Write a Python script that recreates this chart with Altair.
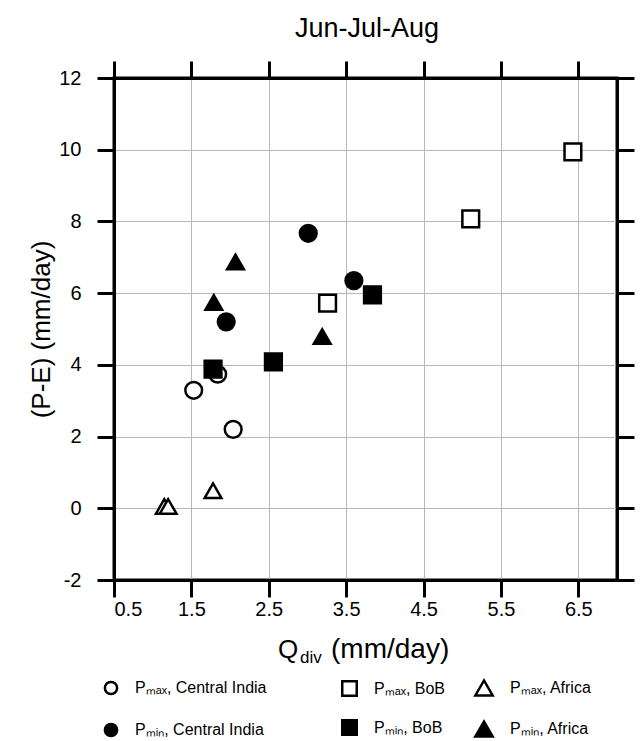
import altair as alt
import pandas as pd

# ---- data ----
ci_names = ["Pₘₐₓ, Central India", "Pₘᵢₙ, Central India"]
bob_names = ["Pₘₐₓ, BoB", "Pₘᵢₙ, BoB"]
af_names = ["Pₘₐₓ, Africa", "Pₘᵢₙ, Africa"]

pmax_ci_x = [1.53, 1.84, 2.04]
pmax_ci_y = [3.29, 3.74, 2.20]
pmin_ci_x = [1.95, 3.01, 3.60]
pmin_ci_y = [5.20, 7.67, 6.35]
pmax_bob_x = [3.26, 5.11, 6.43]
pmax_bob_y = [5.72, 8.07, 9.94]
pmin_bob_x = [1.78, 2.56, 3.84]
pmin_bob_y = [3.88, 4.08, 5.95]
pmax_af_x = [1.15, 1.20, 1.78]
pmax_af_y = [0.05, 0.05, 0.49]
pmin_af_x = [1.79, 2.07, 3.19]
pmin_af_y = [5.74, 6.87, 4.79]

x_ticks = [0.5, 1.5, 2.5, 3.5, 4.5, 5.5, 6.5]
y_ticks = [-2, 0, 2, 4, 6, 8, 10, 12]

title_text = ["Jun-Jul-Aug"]
xtitle_main = ["Q"]
xtitle_sub = ["div"]
xtitle_unit = ["(mm/day)"]
ytitle = "(P-E) (mm/day)"

FONT = "Liberation Sans"


def frame_of(names, xs_list, ys_list):
    rows = []
    for name, xs, ys in zip(names, xs_list, ys_list):
        for xv, yv in zip(xs, ys):
            rows.append({"series": name, "qdiv": xv, "pe": yv})
    return pd.DataFrame(rows)


df_ci = frame_of(ci_names, [pmax_ci_x, pmin_ci_x], [pmax_ci_y, pmin_ci_y])
df_bob = frame_of(bob_names, [pmax_bob_x, pmin_bob_x], [pmax_bob_y, pmin_bob_y])
df_af = frame_of(af_names, [pmax_af_x, pmin_af_x], [pmax_af_y, pmin_af_y])
df_all = pd.concat([df_ci, df_bob, df_af], ignore_index=True)

fills = ["white", "black"]
strokes = ["black", "black"]

xscale = alt.Scale(domain=[0.5, 7.0], nice=False, zero=False)
yscale = alt.Scale(domain=[-2, 12], nice=False, zero=False)


def make_legend(lx, ly, row_pad, sym_size):
    return alt.Legend(title=None, orient="none", legendX=lx, legendY=ly,
                      direction="vertical", rowPadding=row_pad,
                      symbolSize=sym_size, symbolStrokeWidth=2.5, labelOffset=16,
                      labelFont=FONT, labelFontSize=16, labelColor="black",
                      labelLimit=400)


def point_layer(data, names, shape, lg, main_axes):
    if main_axes:
        xenc = alt.X("qdiv:Q", scale=xscale,
                     axis=alt.Axis(values=x_ticks, format=".1f", title=None, orient="bottom",
                                   labelPadding=2))
        yenc = alt.Y("pe:Q", scale=yscale,
                     axis=alt.Axis(values=y_ticks, title=ytitle, orient="left",
                                   labelExpr="toString(datum.value)",
                                   labelPadding=16, titlePadding=4))
    else:
        xenc = alt.X("qdiv:Q", scale=xscale, axis=None)
        yenc = alt.Y("pe:Q", scale=yscale, axis=None)
    return alt.Chart(data).mark_point(
        filled=True, size=280, strokeWidth=2.5, opacity=1
    ).encode(
        x=xenc, y=yenc,
        shape=alt.Shape("series:N", scale=alt.Scale(domain=names, range=[shape, shape]), legend=lg),
        fill=alt.Fill("series:N", scale=alt.Scale(domain=names, range=fills), legend=lg),
        stroke=alt.Stroke("series:N", scale=alt.Scale(domain=names, range=strokes), legend=lg),
    )


pts_ci = point_layer(df_ci, ci_names, "circle", make_legend(-11, 602, 18, 150), True)
pts_bob = point_layer(df_bob, bob_names, "square", make_legend(227, 602, 14, 210), False)
pts_af = point_layer(df_af, af_names, "triangle-up", make_legend(360, 600, 15, 300), False)

frame = alt.Chart(df_all).mark_point(opacity=0).encode(
    x=alt.X("qdiv:Q", scale=xscale,
            axis=alt.Axis(values=x_ticks, labels=False, title=None, orient="top", grid=False)),
    y=alt.Y("pe:Q", scale=yscale,
            axis=alt.Axis(values=y_ticks, labels=False, title=None, orient="right", grid=False)),
)

t_title = alt.Chart(pd.DataFrame({"t": title_text})).mark_text(
    font=FONT, fontSize=27, align="center", baseline="alphabetic", color="black"
).encode(text="t:N", x=alt.value(253), y=alt.value(-41))

t_q = alt.Chart(pd.DataFrame({"t": xtitle_main})).mark_text(
    font=FONT, fontSize=26, align="left", baseline="alphabetic", color="black"
).encode(text="t:N", x=alt.value(164), y=alt.value(580))

t_div = alt.Chart(pd.DataFrame({"t": xtitle_sub})).mark_text(
    font=FONT, fontSize=17, align="left", baseline="alphabetic", color="black"
).encode(text="t:N", x=alt.value(186), y=alt.value(585))

t_unit = alt.Chart(pd.DataFrame({"t": xtitle_unit})).mark_text(
    font=FONT, fontSize=28, align="left", baseline="alphabetic", color="black"
).encode(text="t:N", x=alt.value(217), y=alt.value(580))

chart = alt.layer(pts_ci, pts_bob, pts_af, frame, t_title, t_q, t_div, t_unit).resolve_scale(
    x="independent", y="independent",
    shape="independent", fill="independent", stroke="independent",
).resolve_legend(
    shape="independent", fill="independent", stroke="independent",
).properties(
    width=503, height=502,
    background="white",
    autosize=alt.AutoSizeParams(type="none"),
    padding={"left": 114, "top": 78, "right": 24, "bottom": 161},
).configure_view(
    stroke="black", strokeWidth=3
).configure_axis(
    domainColor="black", domainWidth=3,
    tickColor="black", tickWidth=3, tickSize=17,
    gridColor="#b8b8b8", gridWidth=1,
    labelFont=FONT, labelFontSize=20, labelColor="black",
    titleFont=FONT, titleFontSize=26, titleFontWeight="normal", titleColor="black",
).configure_legend(
    labelFont=FONT, labelFontSize=16, labelColor="black"
)

chart.save("out.html", embed_options={"renderer": "svg", "actions": False})
